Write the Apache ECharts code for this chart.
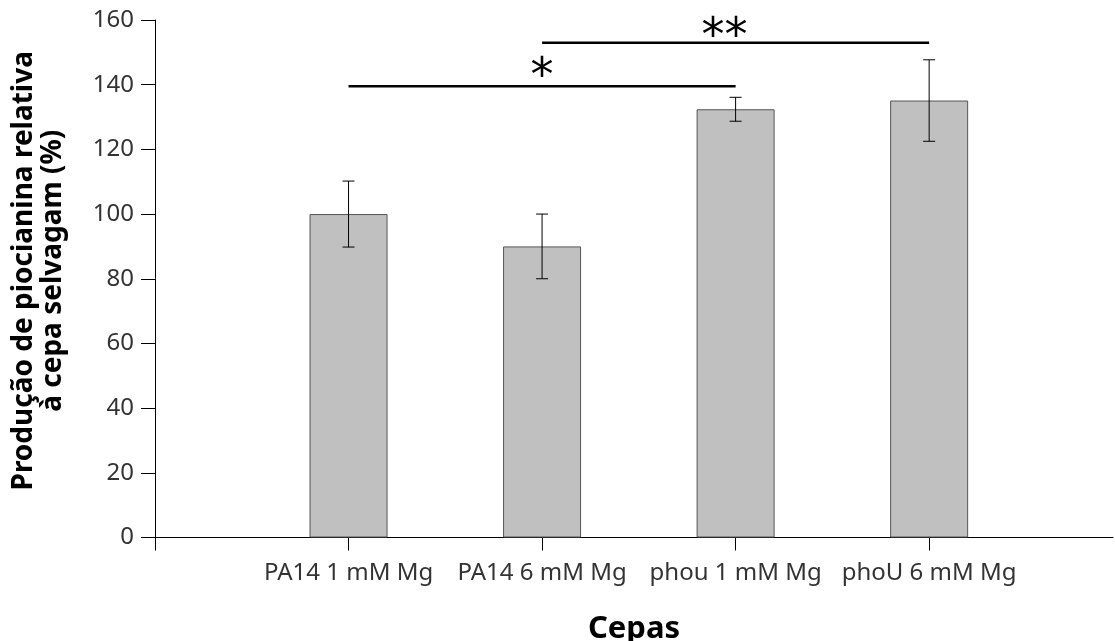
<!DOCTYPE html>
<html>
<head>
<meta charset="utf-8">
<script src="https://cdn.jsdelivr.net/npm/echarts@6/dist/echarts.min.js"></script>
<style>html,body{margin:0;padding:0;background:#fff;}#c{width:1115px;height:641px;}</style>
</head>
<body>
<div id="c"></div>
<script>
const categories = ['PA14 1 mM Mg', 'PA14 6 mM Mg', 'phou 1 mM Mg', 'phoU 6 mM Mg'];
const positions = [1, 2, 3, 4];
const values = [100, 90, 132.4, 135.1];
const errors = [10.2, 10, 3.7, 12.6];
const yTicks = [0, 20, 40, 60, 80, 100, 120, 140, 160];
const sigFrom = [1, 2];
const sigTo = [3, 4];
const sigLevel = [139.5, 153];
const sigLabel = ['*', '**'];

const FONT = 'Noto Sans';
const chart = echarts.init(document.getElementById('c'), null, {renderer: 'canvas'});

const barData = positions.map((p, i) => [p, values[i]]);
const errData = positions.map((p, i) => [p, values[i] - errors[i], values[i] + errors[i]]);
const sigData = sigFrom.map((f, i) => [f, sigTo[i], sigLevel[i]]);

chart.setOption({
  animation: false,
  grid: {left: 155, right: 2, top: 20, bottom: 103.5, containLabel: false, outerBoundsMode: 'none'},
  xAxis: {
    type: 'value', min: 0, max: 4.95, interval: 1,
    splitLine: {show: false},
    axisLine: {lineStyle: {color: '#000', width: 1}},
    axisTick: {show: true, length: 13, customValues: [0, 1, 2, 3, 4], lineStyle: {color: '#000'}},
    axisLabel: {customValues: positions, formatter: v => categories[Math.round(v) - 1] || '',
      color: '#333', fontSize: 24, fontFamily: FONT, margin: 24},
    name: 'Cepas', nameLocation: 'middle', nameGap: 76,
    nameTextStyle: {fontSize: 31, fontWeight: 'bold', color: '#000', fontFamily: FONT}
  },
  yAxis: {
    type: 'value', min: 0, max: 160, interval: 20,
    splitLine: {show: false},
    axisLine: {show: true, lineStyle: {color: '#000', width: 1}},
    axisTick: {show: true, length: 14, lineStyle: {color: '#000'}},
    axisLabel: {color: '#333', fontSize: 24, fontFamily: FONT, margin: 21},
    name: 'Produção de piocianina relativa\nà cepa selvagam (%)', nameLocation: 'middle', nameGap: 116, nameRotate: 90,
    nameTextStyle: {fontSize: 28, fontWeight: 'bold', color: '#000', fontFamily: FONT, lineHeight: 29,
      align: 'center', verticalAlign: 'middle', padding: [0, 0, 0, 16]}
  },
  series: [
    {
      type: 'bar', data: barData, barWidth: 78,
      itemStyle: {color: '#c0c0c0', borderColor: '#555', borderWidth: 1}
    },
    {
      type: 'custom', data: errData, z: 5,
      renderItem: function (params, api) {
        const x = api.value(0);
        const lo = api.coord([x, api.value(1)]);
        const hi = api.coord([x, api.value(2)]);
        const cap = 6;
        const st = {stroke: '#000', lineWidth: 1};
        return {type: 'group', children: [
          {type: 'line', shape: {x1: lo[0], y1: lo[1], x2: hi[0], y2: hi[1]}, style: st},
          {type: 'line', shape: {x1: lo[0] - cap, y1: lo[1], x2: lo[0] + cap, y2: lo[1]}, style: st},
          {type: 'line', shape: {x1: hi[0] - cap, y1: hi[1], x2: hi[0] + cap, y2: hi[1]}, style: st}
        ]};
      }
    },
    {
      type: 'custom', data: sigData, z: 6,
      renderItem: function (params, api) {
        const a = api.coord([api.value(0), api.value(2)]);
        const b = api.coord([api.value(1), api.value(2)]);
        const label = sigLabel[params.dataIndex];
        const shift = label.length > 1 ? -11 : 0;
        const dy = label.length > 1 ? 18 : 15;
        return {type: 'group', children: [
          {type: 'line', shape: {x1: a[0], y1: a[1], x2: b[0], y2: b[1]}, style: {stroke: '#000', lineWidth: 2.5}},
          {type: 'text', x: (a[0] + b[0]) / 2 + shift, y: a[1] + dy, style: {text: label, fill: '#000',
            font: '46px "DejaVu Sans"', textAlign: 'center', textVerticalAlign: 'bottom'}}
        ]};
      }
    }
  ]
});
</script>
</body>
</html>
